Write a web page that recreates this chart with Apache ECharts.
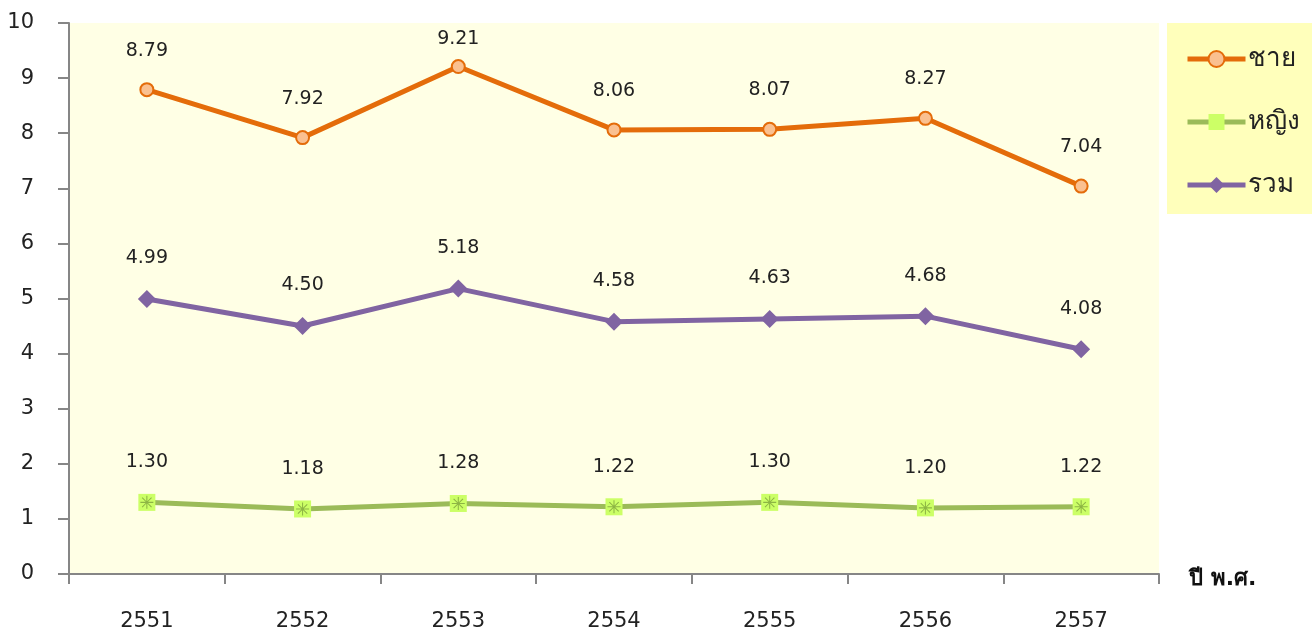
<!DOCTYPE html>
<html>
<head>
<meta charset="utf-8">
<script src="https://cdn.jsdelivr.net/npm/echarts@6/dist/echarts.min.js"></script>
<style>
	html, body { margin: 0; padding: 0; background: #fff; }
	#main { width: 1312px; height: 635px; }
</style>
</head>
<body>
<div id="main"></div>
<script>
	// ข้อมูล
	const years = ['2551', '2552', '2553', '2554', '2555', '2556', '2557']
	const male = [8.79, 7.92, 9.21, 8.06, 8.07, 8.27, 7.04]
	const female = [1.30, 1.18, 1.28, 1.22, 1.30, 1.20, 1.22]
	const total = [4.99, 4.50, 5.18, 4.58, 4.63, 4.68, 4.08]

	const fontFamily = 'Tahoma, "DejaVu Sans", "Noto Sans", sans-serif'
	// สี่เหลี่ยม + ดอกจัน
	const squarePath = 'path://M0,0L1,0L1,1L0,1Z'
	const asterisk = 'path://M4.6,0H5.4V4.1L8.3,1.1L8.9,1.7L5.9,4.6H10V5.4H5.9L8.9,8.3L8.3,8.9L5.4,5.9V10H4.6V5.9L1.7,8.9L1.1,8.3L4.1,5.4H0V4.6H4.1L1.1,1.7L1.7,1.1L4.6,4.1Z'

	const labelStyle = {
		show: true,
		position: 'top',
		distance: 22,
		color: '#222',
		fontSize: 19,
		fontFamily: fontFamily,
		formatter: p => p.value.toFixed(2)
	}
	// ป้ายไม่ให้ชนขอบบน
	const keepInside = p => {
		if (p.labelRect.y >= 28) return {}
		return {
			x: p.labelRect.x + p.labelRect.width / 2,
			y: 39,
			align: 'center',
			verticalAlign: 'middle'
		}
	}

	const myChart = echarts.init(document.getElementById('main'))
	const option = {
		animation: false,
		grid: {
			left: 69,
			right: 153,
			top: 23,
			bottom: 61,
			show: true,
			backgroundColor: '#FFFFE5',
			borderWidth: 0
		},
		legend: {
			orient: 'vertical',
			left: 1167,
			top: 23,
			padding: [23, 26, 16, 18],
			itemGap: 37,
			itemWidth: 58,
			itemHeight: 20,
			backgroundColor: '#FFFFBB',
			textStyle: { fontSize: 26, color: '#222', fontFamily: fontFamily, padding: [0, 0, 0, -3] },
			data: [
				{ name: 'ชาย', lineStyle: { width: 5, color: '#E46C0A' } },
				{ name: 'หญิง', lineStyle: { width: 5, color: '#9BBB59' } },
				{ name: 'รวม', lineStyle: { width: 5, color: '#8064A2' } }
			]
		},
		xAxis: {
			type: 'category',
			data: years,
			name: 'ปี พ.ศ.',
			nameLocation: 'end',
			nameGap: 30,
			nameTextStyle: { fontSize: 22, fontWeight: 'bold', color: '#111', fontFamily: fontFamily, verticalAlign: 'top', padding: [-6, 0, 0, 0] },
			axisLine: { lineStyle: { color: '#868686', width: 2 } },
			axisTick: { show: true, length: 10, lineStyle: { color: '#868686', width: 2 } },
			axisLabel: { fontSize: 21, color: '#222', margin: 37, fontFamily: fontFamily },
			splitLine: { show: false }
		},
		yAxis: {
			type: 'value',
			min: 0,
			max: 10,
			interval: 1,
			axisLine: { show: true, lineStyle: { color: '#868686', width: 2 } },
			axisTick: { show: true, length: 11, lineStyle: { color: '#868686', width: 2 } },
			axisLabel: { fontSize: 21, color: '#222', margin: 35, fontFamily: fontFamily },
			splitLine: { show: false }
		},
		series: [{
			name: 'ชาย',
			type: 'line',
			data: male,
			symbol: 'circle',
			symbolSize: 13,
			lineStyle: { color: '#E46C0A', width: 5 },
			itemStyle: { color: '#FAC090', borderColor: '#E46C0A', borderWidth: 2 },
			label: labelStyle,
			labelLayout: keepInside,
			z: 3
		}, {
			name: 'หญิง',
			type: 'line',
			data: female,
			symbol: squarePath,
			symbolSize: 17,
			lineStyle: { color: '#9BBB59', width: 5 },
			itemStyle: { color: '#CCFF66', borderColor: '#CCFF66', borderWidth: 0 },
			label: labelStyle,
			z: 3
		}, {
			name: 'หญิงx',
			type: 'line',
			data: female,
			symbol: asterisk,
			symbolSize: 13,
			showSymbol: true,
			lineStyle: { width: 0, opacity: 0 },
			itemStyle: { color: '#8DB544' },
			silent: true,
			z: 4
		}, {
			name: 'รวม',
			type: 'line',
			data: total,
			symbol: 'diamond',
			symbolSize: 18,
			lineStyle: { color: '#8064A2', width: 5 },
			itemStyle: { color: '#8064A2' },
			label: labelStyle,
			z: 3
		}]
	}
	myChart.setOption(option)
</script>
</body>
</html>
